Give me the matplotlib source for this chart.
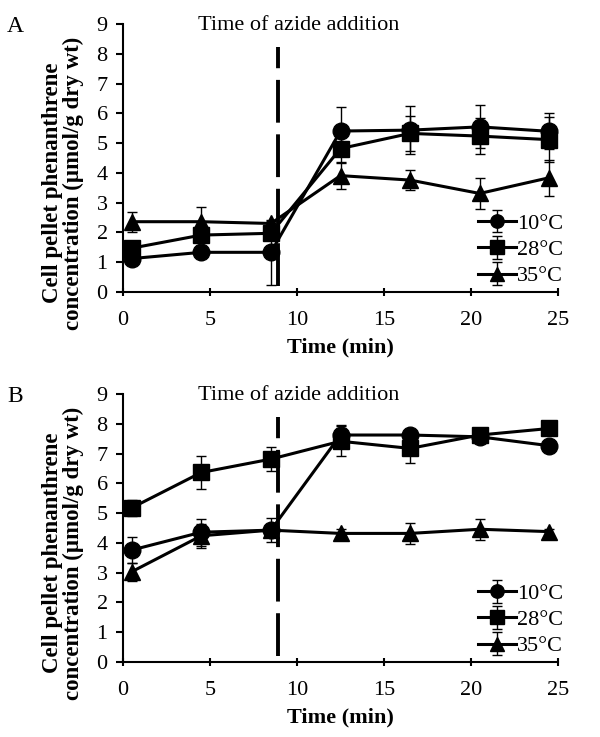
import matplotlib.pyplot as plt
import numpy as np

plt.rcParams['font.family'] = ['Liberation Serif', 'DejaVu Serif']

time = [0.5, 4.5, 8.5, 12.5, 16.5, 20.5, 24.5]
labels = ["10°C", "28°C", "35°C"]
markers = ["o", "s", "^"]

# panel A
a_10 = [1.12, 1.33, 1.33, 5.41, 5.44, 5.55, 5.40]
a_10_err = [0.1, 0.1, 1.1, 0.8, 0.8, 0.72, 0.6]
a_28 = [1.47, 1.91, 1.97, 4.82, 5.33, 5.24, 5.12]
a_28_err = [0.15, 0.2, 0.2, 0.5, 0.6, 0.6, 0.75]
a_35 = [2.36, 2.36, 2.30, 3.91, 3.76, 3.31, 3.84]
a_35_err = [0.33, 0.5, 0.1, 0.45, 0.35, 0.53, 0.6]

# panel B
b_10 = [3.76, 4.36, 4.43, 7.63, 7.63, 7.57, 7.27]
b_10_err = [0.45, 0.45, 0.15, 0.35, 0.15, 0.15, 0.1]
b_28 = [5.18, 6.37, 6.82, 7.42, 7.18, 7.63, 7.85]
b_28_err = [0.27, 0.55, 0.4, 0.5, 0.5, 0.1, 0.1]
b_35 = [3.03, 4.24, 4.43, 4.32, 4.32, 4.46, 4.38]
b_35_err = [0.3, 0.4, 0.4, 0.15, 0.35, 0.35, 0.1]

azide_time = 8.9

W, H = 600, 737
fig = plt.figure(figsize=(6, 7.37), dpi=100)
ax_a = fig.add_axes([0.205, 0.604, 0.725, 0.363])
ax_b = fig.add_axes([0.205, 0.102, 0.725, 0.363])

panels = [
    (ax_a, "A", 0, [a_10, a_28, a_35], [a_10_err, a_28_err, a_35_err]),
    (ax_b, "B", 370, [b_10, b_28, b_35], [b_10_err, b_28_err, b_35_err]),
]

for ax, tag, off, series, errs in panels:
    for vals, err, m, lab in zip(series, errs, markers, labels):
        ax.errorbar(time, vals, yerr=err, color="black", marker=m, markersize=12,
                    lw=2.2, elinewidth=1, capsize=3.5, capthick=1, label=lab)
    ax.plot([azide_time, azide_time], [0.2, 8.25], color="black", lw=2.8,
            dashes=(11, 3))
    ax.text(10.1, 8.95, "Time of azide addition", ha="center", va="center", fontsize=16)
    ax.set_xlim(0, 25)
    ax.set_ylim(0, 9)
    ax.set_xticks(np.arange(0, 26, 5))
    ax.set_yticks(np.arange(0, 10, 1))
    ax.spines["top"].set_visible(False)
    ax.spines["right"].set_visible(False)
    ax.spines["left"].set_linewidth(1.5)
    ax.spines["bottom"].set_linewidth(1.5)
    ax.tick_params(axis="x", direction="inout", length=6, width=1.5, labelsize=16, pad=11)
    ax.tick_params(axis="y", direction="out", length=5, width=1.5, labelsize=16, pad=6)
    ax.set_xlabel("Time (min)", fontsize=16, fontweight="bold", labelpad=5)
    fig.text(63 / W, 1 - (off + 183) / H,
             "Cell pellet phenanthrene\nconcentration (µmol/g dry wt)",
             rotation=90, ha="center", va="center", fontsize=16.5,
             fontweight="bold", linespacing=1.05)
    ax.legend(loc="center left", frameon=False, fontsize=16, handlelength=1.7,
              handletextpad=0.05, labelspacing=0.25, borderaxespad=0, borderpad=0,
              markerscale=0.8,
              bbox_to_anchor=(478 / W, 1 - (off + 250) / H),
              bbox_transform=fig.transFigure)
    fig.text(15 / W, 1 - (off + 26) / H, tag, fontsize=17, ha="center", va="center")

fig.savefig("out.png", dpi=100)
